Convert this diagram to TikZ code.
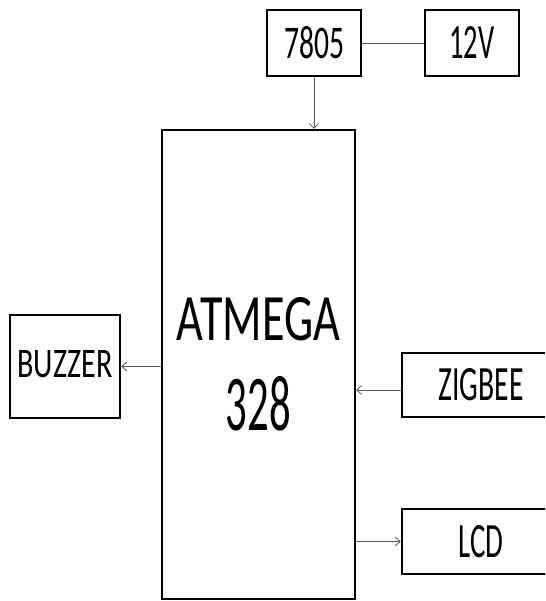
\documentclass[tikz,border=0pt]{standalone}
\usepackage{fontspec}
\setmainfont{Carlito}
\usepackage{graphicx}
\usetikzlibrary{arrows.meta,calc}
\newcommand{\lbl}[3]{\resizebox{#1pt}{#2pt}{#3}}
\tikzset{
  blk/.style={draw=black, line width=2.6pt, rectangle, inner sep=0pt, fill=white},
  conn/.style={draw=black!65, line width=0.9pt},
  arr/.style={conn, -{Straight Barb[length=5pt,width=9pt,line width=0.8pt]}},
}
\begin{document}
\begin{tikzpicture}[x=1pt,y=-1pt]
\useasboundingbox (0,0) rectangle (545,601);
\clip (0,0) rectangle (545,601);
\fill[white] (0,0) rectangle (545,601);
\node[blk, minimum width=94pt, minimum height=66pt] (p7805) at (314,43) {\lbl{60}{32}{7805}};
\node[blk, minimum width=94pt, minimum height=66pt] (p12v) at (472,43) {\lbl{45}{32}{12V}\hspace{6pt}};
\node[blk, line width=2.2pt, minimum width=193pt, minimum height=469pt, align=center] (atmega) at (258.5,364.5)
  {\lbl{163}{43}{ATMEGA}\\[34pt]\lbl{65}{54}{328}};
\node[blk, minimum width=110pt, minimum height=103pt] (buzzer) at (65,366.5) {\raisebox{5pt}{\lbl{95}{27}{BUZZER}}};
\node[blk, minimum width=158pt, minimum height=64pt] (zigbee) at (481,385) {\lbl{85}{32}{ZIGBEE}\hspace{13pt}};
\node[blk, minimum width=158pt, minimum height=65pt] (lcd) at (481,541.5) {\raisebox{-4pt}{\lbl{45}{32}{LCD}}\hspace{23pt}};
\draw[conn] (p7805.east) -- (p12v.west);
\draw[arr] (p7805.south) -- (p7805.south |- atmega.north);
\draw[arr] (atmega.west |- buzzer.east) -- (buzzer.east);
\coordinate (zin) at ($(zigbee.west)+(0,5)$);
\draw[arr] (zin) -- (zin -| atmega.east);
\draw[arr] (atmega.east |- lcd.west) -- (lcd.west);
\end{tikzpicture}
\end{document}
